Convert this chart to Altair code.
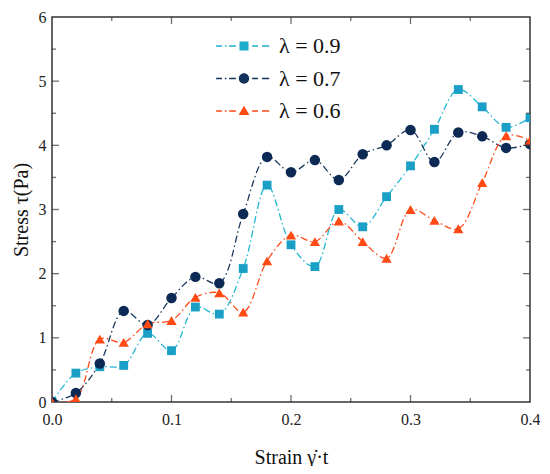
import altair as alt
import pandas as pd

# ---- data ----
x_vals = [0.00, 0.02, 0.04, 0.06, 0.08, 0.10, 0.12, 0.14, 0.16, 0.18, 0.20,
          0.22, 0.24, 0.26, 0.28, 0.30, 0.32, 0.34, 0.36, 0.38, 0.40]
stress_09 = [0.00, 0.45, 0.55, 0.57, 1.07, 0.80, 1.48, 1.37, 2.08, 3.38, 2.45,
             2.11, 3.00, 2.73, 3.20, 3.68, 4.25, 4.87, 4.60, 4.28, 4.43]
stress_07 = [0.00, 0.14, 0.60, 1.42, 1.20, 1.62, 1.95, 1.85, 2.93, 3.82, 3.58,
             3.77, 3.46, 3.86, 4.00, 4.24, 3.74, 4.20, 4.14, 3.96, 4.02]
stress_06 = [0.00, 0.05, 0.98, 0.93, 1.22, 1.27, 1.63, 1.70, 1.40, 2.20, 2.60,
             2.50, 2.82, 2.50, 2.24, 3.00, 2.83, 2.70, 3.42, 4.15, 4.08]
series_names = ["λ = 0.9", "λ = 0.7", "λ = 0.6"]

x_tick_labels = [0.0, 0.1, 0.2, 0.3, 0.4]
y_tick_labels = [0, 1, 2, 3, 4, 5, 6]
x_major_ticks = [0.1, 0.2, 0.3]
x_minor_ticks = [0.05, 0.15, 0.25, 0.35]
y_major_ticks = [1, 2, 3, 4, 5]
y_minor_ticks = [0.5, 1.5, 2.5, 3.5, 4.5, 5.5]

# ---- styles ----
line_colors = ["#22b6d3", "#1c3a60", "#ff4c1c"]
point_colors = ["#1a9fc6", "#0c2a54", "#ff4a14"]
legend_colors = ["#1eaccd", "#12325c", "#ff4a14"]
point_shapes = ["square", "circle", "triangle-up"]
point_sizes = [78, 110, 105]
FONT = "Liberation Serif"
W, H = 478, 385
MAJOR, MINOR = 7, 4

rows = []
for name, ys in zip(series_names, [stress_09, stress_07, stress_06]):
    for xv, yv in zip(x_vals, ys):
        rows.append({"x": xv, "y": yv, "series": name})
df = pd.DataFrame(rows)

xscale = alt.Scale(domain=[0, 0.4], nice=False, zero=False)
yscale = alt.Scale(domain=[0, 6], nice=False, zero=False)

x_enc = alt.X("x:Q", scale=xscale, title="Strain γ\u0307·t",
              axis=alt.Axis(values=x_tick_labels, format=".1f", ticks=False, domain=False,
                            grid=False, labelFlush=False, labelPadding=9,
                            titlePadding=20))
y_enc = alt.Y("y:Q", scale=yscale, title="Stress τ(Pa)",
              axis=alt.Axis(values=y_tick_labels, format="d", ticks=False, domain=False,
                            grid=False, labelFlush=False, labelPadding=6,
                            titlePadding=7))

lines = alt.Chart(df).mark_line(
    interpolate="catmull-rom", strokeWidth=1.3, strokeDash=[7, 3, 1.5, 3], clip=True
).encode(
    x=x_enc, y=y_enc,
    color=alt.Color("series:N", scale=alt.Scale(domain=series_names, range=line_colors), legend=None),
)

point_layers = []
for name, col, shp, sz in zip(series_names, point_colors, point_shapes, point_sizes):
    point_layers.append(
        alt.Chart(df).transform_filter(alt.datum.series == name)
        .mark_point(filled=True, opacity=1, clip=True, shape=shp, color=col, size=sz)
        .encode(x=alt.X("x:Q", scale=xscale), y=alt.Y("y:Q", scale=yscale))
    )


# legend symbols: dash-dot line (thin filled bars) with a marker in the middle
# (units: 1 = 4.5 px)
def bar(a, b, t=0.15):
    return f"M{a},{-t} L{b},{-t} L{b},{t} L{a},{t} Z "


line_part = (bar(-6.2, -4.9) + bar(-4.25, -3.9) + bar(-3.3, -1.8)
             + bar(1.8, 3.1) + bar(4.0, 5.6))
legend_symbols = [
    line_part + "M-1,-1 L1,-1 L1,1 L-1,1 Z",
    line_part + "M-1.15,0 A1.15,1.15 0 1,0 1.15,0 A1.15,1.15 0 1,0 -1.15,0 Z",
    line_part + "M0,-1.15 L1.2,0.9 L-1.2,0.9 Z",
]

# one legend per series (each from its own shape scale; these layers draw no marks)
legend_layers = []
for i, (name, sym, lc) in enumerate(zip(series_names, legend_symbols, legend_colors)):
    leg = alt.Legend(title=None, orient="none", legendX=181, legendY=18 + 32.5 * i,
                     symbolSize=81, symbolStrokeWidth=0, symbolOpacity=1,
                     symbolFillColor=lc,
                     labelOffset=24, labelFont=FONT, labelFontSize=22,
                     labelColor="#111", padding=0)
    legend_layers.append(
        alt.Chart(df).transform_filter("false")
        .mark_point(filled=True, color=lc)
        .encode(
            x=alt.X("x:Q", scale=xscale),
            y=alt.Y("y:Q", scale=yscale),
            shape=alt.Shape("series:N", scale=alt.Scale(domain=[name], range=[sym]), legend=leg),
        )
    )


def tick_layer(vals, length, axis_side):
    tdf = pd.DataFrame({("y" if axis_side in ("left", "right") else "x"): vals})
    if axis_side == "left":
        return alt.Chart(tdf).mark_tick(orient="horizontal", size=length, thickness=1.3,
                                        color="#333", xOffset=length / 2).encode(
            x=alt.X(datum=0, scale=xscale), y=alt.Y("y:Q", scale=yscale))
    if axis_side == "right":
        return alt.Chart(tdf).mark_tick(orient="horizontal", size=length, thickness=1.3,
                                        color="#333", xOffset=-length / 2).encode(
            x=alt.X(datum=0.4, scale=xscale), y=alt.Y("y:Q", scale=yscale))
    if axis_side == "bottom":
        return alt.Chart(tdf).mark_tick(orient="vertical", size=length, thickness=1.3,
                                        color="#333", yOffset=-length / 2).encode(
            x=alt.X("x:Q", scale=xscale), y=alt.Y(datum=0, scale=yscale))
    return alt.Chart(tdf).mark_tick(orient="vertical", size=length, thickness=1.3,
                                    color="#333", yOffset=length / 2).encode(
        x=alt.X("x:Q", scale=xscale), y=alt.Y(datum=6, scale=yscale))


ticks = [
    tick_layer(y_major_ticks, MAJOR, "left"), tick_layer(y_minor_ticks, MINOR, "left"),
    tick_layer(y_major_ticks, MAJOR, "right"), tick_layer(y_minor_ticks, MINOR, "right"),
    tick_layer(x_major_ticks, MAJOR, "bottom"), tick_layer(x_minor_ticks, MINOR, "bottom"),
    tick_layer(x_major_ticks, MAJOR, "top"), tick_layer(x_minor_ticks, MINOR, "top"),
]

chart = alt.layer(
    lines, *point_layers, *legend_layers, *ticks
).resolve_scale(
    shape="independent"
).properties(
    width=W, height=H,
    autosize=alt.AutoSizeParams(type="none"),
    padding={"left": 44, "top": 9, "right": 10, "bottom": 64},
).configure_view(
    stroke="#333", strokeWidth=1.5
).configure_axis(
    labelFont=FONT, titleFont=FONT, labelFontSize=16, titleFontSize=20,
    labelColor="#222", titleColor="#111", titleFontWeight="normal",
).configure_legend(
    labelFont=FONT
)

chart.save("out.html", embed_options={"renderer": "svg", "actions": False})
